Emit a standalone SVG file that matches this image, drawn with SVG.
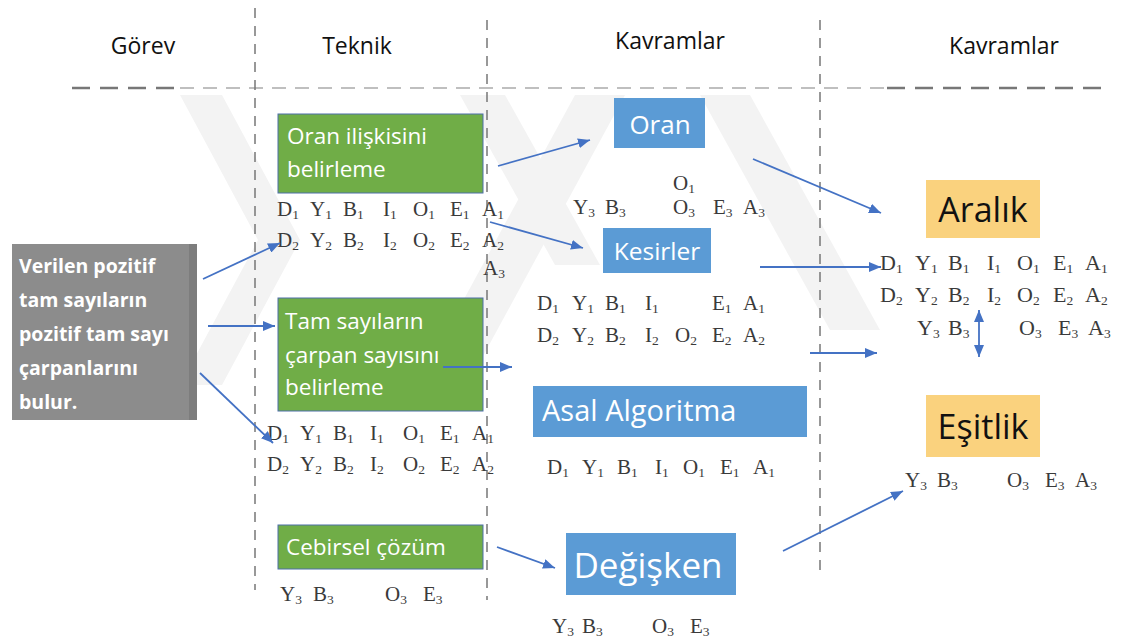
<svg xmlns="http://www.w3.org/2000/svg" width="1121" height="638" viewBox="0 0 1121 638">
<style>
.hd{font-family:"Open Sans","Noto Sans",sans-serif;font-size:23px;fill:#111}
.gb{fill:#70ad47;stroke:#4d6fa8;stroke-width:1}
.gt{font-family:"Open Sans","Noto Sans",sans-serif;font-size:22.5px;fill:#fff}
.bb{fill:#5b9bd5}
.bt{font-family:"Open Sans","Noto Sans",sans-serif;fill:#fff;text-anchor:middle}
.ob{fill:#fad27e}
.ot{font-family:"Open Sans","Noto Sans",sans-serif;font-size:34px;fill:#111;text-anchor:middle}
.m{font-family:"Liberation Serif","Times New Roman",serif;font-size:21px;fill:#3a3a3a}
.m2{font-family:"Liberation Serif","Times New Roman",serif;font-size:21px;fill:#3a3a3a}
.m3{font-family:"Liberation Serif","Times New Roman",serif;font-size:22px;fill:#3a3a3a}
.s{font-size:13.5px}
.vd{stroke:#777;stroke-width:1.5;stroke-dasharray:10 8;fill:none}
.c{stroke:#4472c4;stroke-width:1.8;fill:none;marker-end:url(#ah)}
.wm{fill:#f3f3f3}
</style>
<defs>
<marker id="ah" viewBox="0 0 12 10" refX="12" refY="5" markerWidth="12" markerHeight="10" orient="auto-start-reverse" markerUnits="userSpaceOnUse"><path d="M0,0 L12,5 L0,10 z" fill="#4472c4"/></marker>
</defs>
<rect width="1121" height="638" fill="#fff"/>
<g id="watermark">
<polygon class="wm" points="180,95 222,95 300,240 222,385 180,385 258,240"/>
<polygon class="wm" points="460,95 505,95 600,265 555,265"/>
<polygon class="wm" points="575,95 625,95 470,380 420,380"/>
<polygon class="wm" points="700,95 750,95 880,330 830,330"/>
</g>
<g id="grid">
<line x1="72" y1="88" x2="178" y2="88" stroke="#777" stroke-width="2.5" stroke-dasharray="18 10"/>
<line x1="180" y1="88" x2="885" y2="88" stroke="#aaa" stroke-width="1.5" stroke-dasharray="14 9"/>
<line x1="887" y1="88" x2="1106" y2="88" stroke="#777" stroke-width="2.5" stroke-dasharray="18 10"/>
<line class="vd" x1="255" y1="8" x2="255" y2="590"/>
<line class="vd" x1="487" y1="20" x2="487" y2="600"/>
<line class="vd" x1="820" y1="20" x2="820" y2="578"/>
</g>
<g id="headers">
<text class="hd" x="143" y="54" text-anchor="middle">Görev</text>
<text class="hd" x="357" y="54" text-anchor="middle">Teknik</text>
<text class="hd" x="670" y="49" text-anchor="middle">Kavramlar</text>
<text class="hd" x="1004" y="54" text-anchor="middle">Kavramlar</text>
</g>
<g id="gorev">
<rect x="12" y="244" width="185" height="176" fill="#8c8c8c"/>
<rect x="189" y="244" width="8" height="176" fill="#7d7d7d"/>
<text font-family="'Open Sans','Noto Sans',sans-serif" font-size="19.5" font-weight="bold" fill="#fff">
<tspan x="19" y="273">Verilen pozitif</tspan>
<tspan x="19" y="307">tam sayıların</tspan>
<tspan x="19" y="341">pozitif tam sayı</tspan>
<tspan x="19" y="375">çarpanlarını</tspan>
<tspan x="19" y="409">bulur.</tspan>
</text>
</g>
<g id="oran-iliskisi">
<rect class="gb" x="278" y="114" width="205" height="79"/>
<text class="gt"><tspan x="287" y="144">Oran ilişkisini</tspan><tspan x="287" y="177">belirleme</tspan></text>
<text class="m" y="216"><tspan x="277">D</tspan><tspan class="s" dy="3">1</tspan><tspan x="310" dy="-3">Y</tspan><tspan class="s" dy="3">1</tspan><tspan x="343" dy="-3">B</tspan><tspan class="s" dy="3">1</tspan><tspan x="383" dy="-3">I</tspan><tspan class="s" dy="3">1</tspan><tspan x="413" dy="-3">O</tspan><tspan class="s" dy="3">1</tspan><tspan x="450" dy="-3">E</tspan><tspan class="s" dy="3">1</tspan><tspan x="482" dy="-3">A</tspan><tspan class="s" dy="3">1</tspan></text>
<text class="m" y="247"><tspan x="277">D</tspan><tspan class="s" dy="3">2</tspan><tspan x="310" dy="-3">Y</tspan><tspan class="s" dy="3">2</tspan><tspan x="343" dy="-3">B</tspan><tspan class="s" dy="3">2</tspan><tspan x="383" dy="-3">I</tspan><tspan class="s" dy="3">2</tspan><tspan x="413" dy="-3">O</tspan><tspan class="s" dy="3">2</tspan><tspan x="450" dy="-3">E</tspan><tspan class="s" dy="3">2</tspan><tspan x="482" dy="-3">A</tspan><tspan class="s" dy="3">2</tspan></text>
<text class="m" y="275"><tspan x="483">A</tspan><tspan class="s" dy="3">3</tspan></text>
</g>
<g id="tam-sayilar">
<rect class="gb" x="278" y="298" width="205" height="113"/>
<text class="gt"><tspan x="285" y="329">Tam sayıların</tspan><tspan x="285" y="363">çarpan sayısını</tspan><tspan x="285" y="395">belirleme</tspan></text>
<text class="m" y="440"><tspan x="267">D</tspan><tspan class="s" dy="3">1</tspan><tspan x="300" dy="-3">Y</tspan><tspan class="s" dy="3">1</tspan><tspan x="333" dy="-3">B</tspan><tspan class="s" dy="3">1</tspan><tspan x="370" dy="-3">I</tspan><tspan class="s" dy="3">1</tspan><tspan x="403" dy="-3">O</tspan><tspan class="s" dy="3">1</tspan><tspan x="440" dy="-3">E</tspan><tspan class="s" dy="3">1</tspan><tspan x="472" dy="-3">A</tspan><tspan class="s" dy="3">1</tspan></text>
<text class="m" y="471"><tspan x="267">D</tspan><tspan class="s" dy="3">2</tspan><tspan x="300" dy="-3">Y</tspan><tspan class="s" dy="3">2</tspan><tspan x="333" dy="-3">B</tspan><tspan class="s" dy="3">2</tspan><tspan x="370" dy="-3">I</tspan><tspan class="s" dy="3">2</tspan><tspan x="403" dy="-3">O</tspan><tspan class="s" dy="3">2</tspan><tspan x="440" dy="-3">E</tspan><tspan class="s" dy="3">2</tspan><tspan x="472" dy="-3">A</tspan><tspan class="s" dy="3">2</tspan></text>
</g>
<g id="cebirsel">
<rect class="gb" x="278" y="525" width="205" height="44"/>
<text class="gt" x="286" y="555">Cebirsel çözüm</text>
<text class="m" y="601"><tspan x="280">Y</tspan><tspan class="s" dy="3">3</tspan><tspan x="313" dy="-3">B</tspan><tspan class="s" dy="3">3</tspan><tspan x="385" dy="-3">O</tspan><tspan class="s" dy="3">3</tspan><tspan x="423" dy="-3">E</tspan><tspan class="s" dy="3">3</tspan></text>
</g>
<g id="oran">
<rect class="bb" x="614" y="98" width="91" height="50"/>
<text class="bt" x="660" y="134" font-size="26">Oran</text>
<text class="m" y="190"><tspan x="673">O</tspan><tspan class="s" dy="3">1</tspan></text>
<text class="m" y="214"><tspan x="573">Y</tspan><tspan class="s" dy="3">3</tspan><tspan x="605" dy="-3">B</tspan><tspan class="s" dy="3">3</tspan><tspan x="673" dy="-3">O</tspan><tspan class="s" dy="3">3</tspan><tspan x="713" dy="-3">E</tspan><tspan class="s" dy="3">3</tspan><tspan x="743" dy="-3">A</tspan><tspan class="s" dy="3">3</tspan></text>
</g>
<g id="kesirler">
<rect class="bb" x="603" y="228" width="108" height="45"/>
<text class="bt" x="657" y="260" font-size="24.5">Kesirler</text>
<text class="m2" y="310"><tspan x="537">D</tspan><tspan class="s" dy="3">1</tspan><tspan x="572" dy="-3">Y</tspan><tspan class="s" dy="3">1</tspan><tspan x="605" dy="-3">B</tspan><tspan class="s" dy="3">1</tspan><tspan x="645" dy="-3">I</tspan><tspan class="s" dy="3">1</tspan><tspan x="712" dy="-3">E</tspan><tspan class="s" dy="3">1</tspan><tspan x="743" dy="-3">A</tspan><tspan class="s" dy="3">1</tspan></text>
<text class="m2" y="342"><tspan x="537">D</tspan><tspan class="s" dy="3">2</tspan><tspan x="572" dy="-3">Y</tspan><tspan class="s" dy="3">2</tspan><tspan x="605" dy="-3">B</tspan><tspan class="s" dy="3">2</tspan><tspan x="645" dy="-3">I</tspan><tspan class="s" dy="3">2</tspan><tspan x="675" dy="-3">O</tspan><tspan class="s" dy="3">2</tspan><tspan x="712" dy="-3">E</tspan><tspan class="s" dy="3">2</tspan><tspan x="743" dy="-3">A</tspan><tspan class="s" dy="3">2</tspan></text>
</g>
<g id="asal">
<rect class="bb" x="533" y="386" width="274" height="51"/>
<text class="bt" x="542" y="421" font-size="29" style="text-anchor:start">Asal Algoritma</text>
<text class="m2" y="474"><tspan x="547">D</tspan><tspan class="s" dy="3">1</tspan><tspan x="582" dy="-3">Y</tspan><tspan class="s" dy="3">1</tspan><tspan x="617" dy="-3">B</tspan><tspan class="s" dy="3">1</tspan><tspan x="655" dy="-3">I</tspan><tspan class="s" dy="3">1</tspan><tspan x="683" dy="-3">O</tspan><tspan class="s" dy="3">1</tspan><tspan x="720" dy="-3">E</tspan><tspan class="s" dy="3">1</tspan><tspan x="753" dy="-3">A</tspan><tspan class="s" dy="3">1</tspan></text>
</g>
<g id="degisken">
<rect class="bb" x="566" y="533" width="170" height="62"/>
<text class="bt" x="648" y="578" font-size="35">Değişken</text>
<text class="m2" y="633"><tspan x="552">Y</tspan><tspan class="s" dy="3">3</tspan><tspan x="582" dy="-3">B</tspan><tspan class="s" dy="3">3</tspan><tspan x="652" dy="-3">O</tspan><tspan class="s" dy="3">3</tspan><tspan x="690" dy="-3">E</tspan><tspan class="s" dy="3">3</tspan></text>
</g>
<g id="aralik">
<rect class="ob" x="926" y="180" width="114" height="58"/>
<text class="ot" x="983" y="222">Aralık</text>
<text class="m3" y="270"><tspan x="880">D</tspan><tspan class="s" dy="3">1</tspan><tspan x="915" dy="-3">Y</tspan><tspan class="s" dy="3">1</tspan><tspan x="948" dy="-3">B</tspan><tspan class="s" dy="3">1</tspan><tspan x="987" dy="-3">I</tspan><tspan class="s" dy="3">1</tspan><tspan x="1017" dy="-3">O</tspan><tspan class="s" dy="3">1</tspan><tspan x="1053" dy="-3">E</tspan><tspan class="s" dy="3">1</tspan><tspan x="1085" dy="-3">A</tspan><tspan class="s" dy="3">1</tspan></text>
<text class="m3" y="302"><tspan x="880">D</tspan><tspan class="s" dy="3">2</tspan><tspan x="915" dy="-3">Y</tspan><tspan class="s" dy="3">2</tspan><tspan x="948" dy="-3">B</tspan><tspan class="s" dy="3">2</tspan><tspan x="987" dy="-3">I</tspan><tspan class="s" dy="3">2</tspan><tspan x="1017" dy="-3">O</tspan><tspan class="s" dy="3">2</tspan><tspan x="1053" dy="-3">E</tspan><tspan class="s" dy="3">2</tspan><tspan x="1085" dy="-3">A</tspan><tspan class="s" dy="3">2</tspan></text>
<text class="m3" y="335"><tspan x="917">Y</tspan><tspan class="s" dy="3">3</tspan><tspan x="948" dy="-3">B</tspan><tspan class="s" dy="3">3</tspan><tspan x="1019" dy="-3">O</tspan><tspan class="s" dy="3">3</tspan><tspan x="1058" dy="-3">E</tspan><tspan class="s" dy="3">3</tspan><tspan x="1088" dy="-3">A</tspan><tspan class="s" dy="3">3</tspan></text>
</g>
<g id="esitlik">
<rect class="ob" x="926" y="395" width="114" height="62"/>
<text class="ot" x="983" y="439">Eşitlik</text>
<text class="m2" y="487"><tspan x="905">Y</tspan><tspan class="s" dy="3">3</tspan><tspan x="937" dy="-3">B</tspan><tspan class="s" dy="3">3</tspan><tspan x="1007" dy="-3">O</tspan><tspan class="s" dy="3">3</tspan><tspan x="1045" dy="-3">E</tspan><tspan class="s" dy="3">3</tspan><tspan x="1075" dy="-3">A</tspan><tspan class="s" dy="3">3</tspan></text>
</g>
<g id="connectors">
<line class="c" x1="203" y1="279" x2="280" y2="243"/>
<line class="c" x1="208" y1="326" x2="275" y2="326"/>
<line class="c" x1="200" y1="373" x2="273" y2="443"/>
<line class="c" x1="498" y1="166" x2="590" y2="140"/>
<line class="c" x1="490" y1="222" x2="583" y2="248"/>
<line class="c" x1="443" y1="367" x2="512" y2="367"/>
<line class="c" x1="497" y1="547" x2="555" y2="568"/>
<line class="c" x1="753" y1="159" x2="881" y2="213"/>
<line class="c" x1="760" y1="267" x2="881" y2="267"/>
<line class="c" x1="810" y1="353" x2="877" y2="353"/>
<line class="c" x1="783" y1="551" x2="903" y2="491"/>
<line class="c" x1="979" y1="310" x2="979" y2="357" marker-start="url(#ah)"/>
</g>
</svg>
